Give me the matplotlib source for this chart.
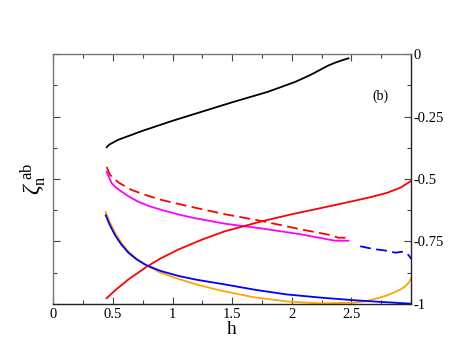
import matplotlib
matplotlib.use('Agg')
import matplotlib.pyplot as plt
from matplotlib.ticker import MultipleLocator

plt.rcParams['font.family'] = ['Liberation Serif', 'DejaVu Serif']
plt.rcParams['mathtext.fontset'] = 'custom'
plt.rcParams['mathtext.rm'] = 'Liberation Serif'
plt.rcParams['mathtext.it'] = 'Liberation Serif:italic'

# black solid
h_black = [0.448, 0.47, 0.545, 0.75, 1.0, 1.25, 1.5, 1.8, 2.03, 2.15, 2.25, 2.3, 2.36, 2.42, 2.475]
z_black = [-0.373, -0.362, -0.343, -0.307, -0.267, -0.23, -0.193, -0.151, -0.111, -0.085,
           -0.06, -0.047, -0.035, -0.025, -0.017]

# red dashed
h_red_d = [0.448, 0.476, 0.55, 0.658, 0.78, 0.91, 1.05, 1.19, 1.44, 1.734, 2.07, 2.32, 2.39, 2.475]
z_red_d = [-0.452, -0.484, -0.515, -0.544, -0.565, -0.584, -0.60, -0.615, -0.641, -0.667,
           -0.701, -0.724, -0.735, -0.735]

# magenta
h_mag = [0.448, 0.47, 0.49, 0.53, 0.574, 0.64, 0.713, 0.8, 0.91, 1.05, 1.19, 1.44, 1.734, 2.07, 2.363, 2.475]
z_mag = [-0.471, -0.497, -0.517, -0.536, -0.551, -0.572, -0.591, -0.608, -0.624, -0.642,
         -0.657, -0.679, -0.697, -0.721, -0.747, -0.747]

# red solid
h_red = [0.448, 0.52, 0.63, 0.78, 0.9, 1.05, 1.25, 1.44, 1.734, 2.0, 2.237, 2.45, 2.657, 2.8, 2.909, 3.0]
z_red = [-0.977, -0.945, -0.902, -0.852, -0.818, -0.782, -0.742, -0.709, -0.671, -0.641,
         -0.617, -0.595, -0.573, -0.555, -0.535, -0.508]

# blue solid
h_blue = [0.44, 0.47, 0.518, 0.57, 0.63, 0.7, 0.78, 0.9, 1.05, 1.2, 1.44, 1.7, 1.958, 2.25, 2.517, 2.75, 3.0]
z_blue = [-0.645, -0.68, -0.725, -0.762, -0.795, -0.822, -0.845, -0.868, -0.888, -0.903,
          -0.922, -0.944, -0.962, -0.975, -0.985, -0.992, -0.999]

# orange
h_orng = [0.44, 0.47, 0.518, 0.57, 0.63, 0.7, 0.78, 0.9, 1.05, 1.2, 1.4, 1.678, 1.958, 2.237, 2.517,
          2.62, 2.713, 2.79, 2.852, 2.91, 2.95, 2.98, 3.0]
z_orng = [-0.632, -0.668, -0.715, -0.754, -0.79, -0.82, -0.846, -0.875, -0.9, -0.922,
          -0.946, -0.973, -0.99, -0.998, -0.995, -0.989, -0.978, -0.967, -0.955, -0.942,
          -0.93, -0.915, -0.897]

# blue dashed
h_blue_d = [2.573, 2.68, 2.78, 2.87, 2.92, 2.97, 2.99, 3.0]
z_blue_d = [-0.769, -0.78, -0.786, -0.795, -0.791, -0.8, -0.812, -0.82]

fig = plt.figure(figsize=(4.63, 3.58), dpi=100)
ax = fig.add_axes([0.115, 0.151, 0.773, 0.698])

lw = 1.3
ax.plot(h_black, z_black, color='black', lw=lw)
ax.plot(h_red_d, z_red_d, color='red', lw=lw, ls=(0, (6, 3)))
ax.plot(h_mag, z_mag, color='magenta', lw=lw)
ax.plot(h_red, z_red, color='red', lw=lw)
ax.plot(h_orng, z_orng, color='orange', lw=lw)
ax.plot(h_blue, z_blue, color='blue', lw=lw)
ax.plot(h_blue_d, z_blue_d, color='blue', lw=lw, ls=(0, (6, 3)))

ax.set_xlim(0, 3)
ax.set_ylim(-1, 0)

ax.xaxis.set_minor_locator(MultipleLocator(0.25))
ax.yaxis.set_minor_locator(MultipleLocator(0.125))
ax.set_xticks([0, 0.5, 1, 1.5, 2, 2.5])
ax.set_xticklabels(['0', '0.5', '1', '1.5', '2', '2.5'])
ax.set_yticks([0, -0.25, -0.5, -0.75, -1])
ax.set_yticklabels(['0', '-0.25', '-0.5', '-0.75', '-1'])

ax.tick_params(axis='both', which='both', direction='in', labelsize=10.5)
ax.tick_params(axis='x', which='both', top=True, bottom=True)
ax.tick_params(axis='y', which='both', left=True, right=True, labelleft=False, labelright=True)
ax.tick_params(which='major', length=5, width=0.8, color='#444444')
ax.tick_params(which='minor', length=3, width=0.8, color='#444444')
ax.tick_params(axis='x', pad=3)
ax.tick_params(axis='y', pad=2)

for s in ['top', 'left']:
    ax.spines[s].set_color('#777777')
for s in ['bottom', 'right']:
    ax.spines[s].set_color('#222222')
for s in ax.spines.values():
    s.set_linewidth(1.0)

ax.set_xlabel('h', fontsize=14, labelpad=0)
fig.text(0.072, 0.5, r'$\zeta_{\rm n}^{\rm \ ab}$', rotation=90, fontsize=17, ha='center', va='center')
ax.text(2.74, -0.17, '(b)', fontsize=10, ha='center', va='center')

fig.savefig('out.png', dpi=100)
